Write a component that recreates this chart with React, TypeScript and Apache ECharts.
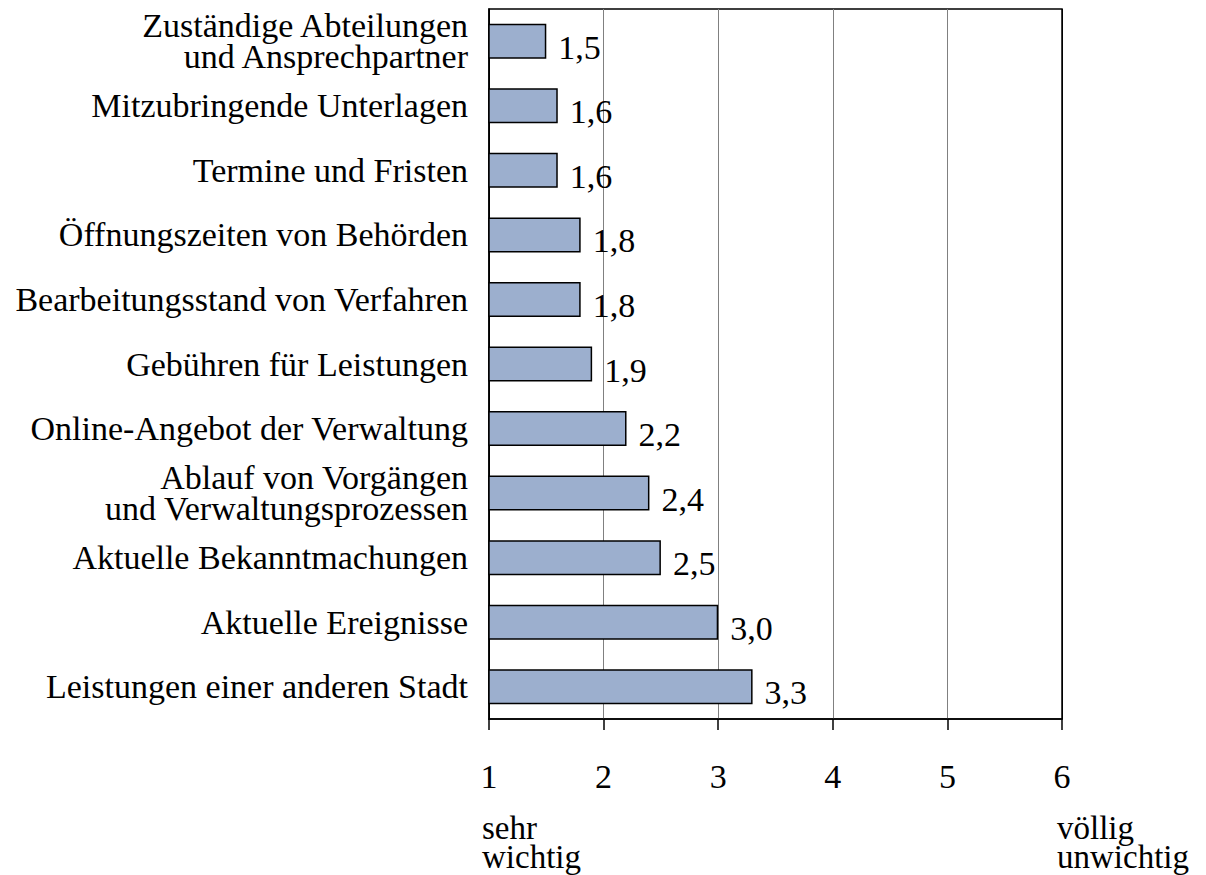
import React, { useEffect, useRef } from "react";
import * as echarts from "echarts";

const categories: string[] = [
  "Zuständige Abteilungen\nund Ansprechpartner",
  "Mitzubringende Unterlagen",
  "Termine und Fristen",
  "Öffnungszeiten von Behörden",
  "Bearbeitungsstand von Verfahren",
  "Gebühren für Leistungen",
  "Online-Angebot der Verwaltung",
  "Ablauf von Vorgängen\nund Verwaltungsprozessen",
  "Aktuelle Bekanntmachungen",
  "Aktuelle Ereignisse",
  "Leistungen einer anderen Stadt",
];
const values: number[] = [1.5, 1.6, 1.6, 1.8, 1.8, 1.9, 2.2, 2.4, 2.5, 3.0, 3.3];
const axisMin = 1;
const axisMax = 6;
const leftNote = "sehr\nwichtig";
const rightNote = "völlig\nunwichtig";

const FONT = "'Liberation Serif', 'Times New Roman', serif";

export default function App() {
  const ref = useRef<HTMLDivElement>(null);
  useEffect(() => {
    if (!ref.current) return;
    const chart = echarts.init(ref.current, null, { renderer: "svg" });
    chart.setOption({
      animation: false,
      backgroundColor: "#ffffff",
      grid: {
        left: 489,
        right: 144,
        top: 9,
        bottom: 156,
        show: true,
        borderColor: "#000",
        borderWidth: 1.5,
      },
      xAxis: {
        type: "value",
        min: axisMin,
        max: axisMax,
        interval: 1,
        axisLine: { show: true, lineStyle: { color: "#000", width: 1.5 } },
        axisTick: { show: true, length: 11, lineStyle: { color: "#000", width: 1.5 } },
        axisLabel: {
          margin: 40,
          fontFamily: FONT,
          fontSize: 34,
          color: "#000",
        },
        splitLine: {
          show: true,
          lineStyle: {
            color: ["#000", "#808080", "#808080", "#808080", "#808080", "#000"],
            width: 1,
          },
        },
      },
      yAxis: {
        type: "category",
        inverse: true,
        data: categories,
        axisLine: { show: true, lineStyle: { color: "#000", width: 1.5 } },
        axisTick: { show: false },
        axisLabel: {
          margin: 21,
          fontFamily: FONT,
          fontSize: 34,
          lineHeight: 31,
          color: "#000",
          align: "right",
        },
      },
      series: [
        {
          type: "bar",
          data: values,
          barWidth: 35,
          itemStyle: { color: "#9cafce", borderColor: "#000", borderWidth: 1.5 },
          label: {
            show: true,
            position: "right",
            distance: 12,
            offset: [0, 6],
            fontFamily: FONT,
            fontSize: 34,
            color: "#000",
            formatter: (p: any) => Number(p.value).toFixed(1).replace(".", ","),
          },
        },
      ],
      graphic: [
        {
          type: "text",
          left: 482,
          top: 811,
          style: {
            text: leftNote,
            fontFamily: FONT,
            fontSize: 33,
            lineHeight: 29,
            fill: "#000",
          },
        },
        {
          type: "text",
          left: 1057,
          top: 811,
          style: {
            text: rightNote,
            fontFamily: FONT,
            fontSize: 33,
            lineHeight: 29,
            fill: "#000",
          },
        },
      ],
    });
    return () => chart.dispose();
  }, []);
  return (
    <div
      ref={ref}
      style={{ position: "fixed", left: 0, top: 0, width: 1206, height: 875 }}
    />
  );
}
